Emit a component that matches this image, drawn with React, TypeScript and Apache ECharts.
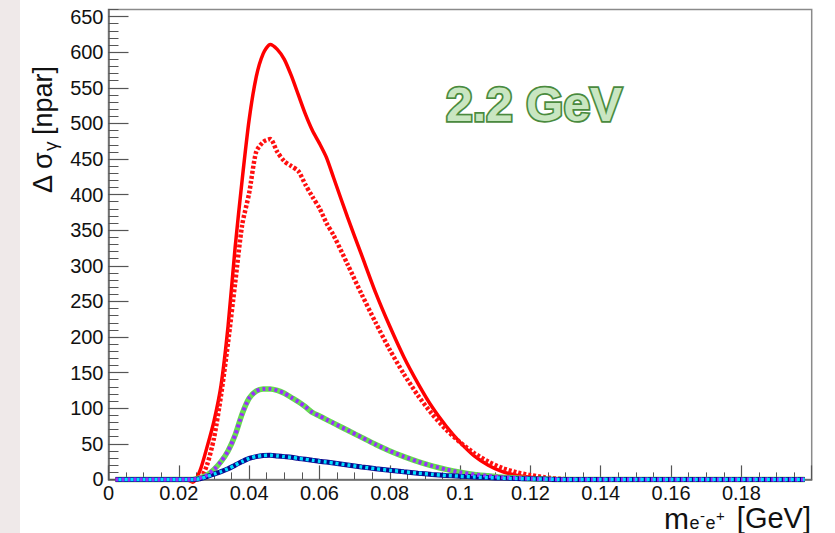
import React, { useEffect, useRef } from "react";
import * as echarts from "echarts";

// bin positions (GeV)
const xValues = [
  0.002, 0.006, 0.010, 0.014, 0.018, 0.022, 0.024, 0.026, 0.028, 0.030,
  0.032, 0.034, 0.036, 0.038, 0.040, 0.042, 0.044, 0.046, 0.048, 0.050,
  0.052, 0.054, 0.056, 0.058, 0.060, 0.062, 0.064, 0.068, 0.072, 0.076,
  0.080, 0.084, 0.088, 0.092, 0.096, 0.100, 0.104, 0.108, 0.112, 0.116,
  0.120, 0.124, 0.128, 0.132, 0.140, 0.150, 0.160, 0.170, 0.180, 0.190,
  0.198,
];

const redSolid = [
  0, 0, 0, 0, 0, 0, -4, 12, 45, 82,
  132, 215, 325, 420, 505, 565, 598, 611, 604, 590,
  567, 540, 513, 490, 472, 452, 424, 368, 315, 262,
  215, 172, 135, 102, 75, 52, 33, 20, 11, 6,
  3, 1, 0, 0, 0, 0, 0, 0, 0, 0,
  0,
];

const redDotted = [
  0, 0, 0, 0, 0, 0, 0, 1, 20, 58,
  118, 192, 275, 357, 402, 460, 474, 478, 460, 447,
  440, 433, 414, 397, 381, 360, 343, 302, 260, 220,
  182, 148, 118, 92, 70, 52, 37, 25, 16, 10,
  6, 3, 1, 0, 0, 0, 0, 0, 0, 0,
  0,
];

const greenSolid = [
  0, 0, 0, 0, 0, 0, 0, 2, 6, 14,
  25, 40, 62, 92, 114, 124, 127, 127, 125, 121,
  115, 109, 102, 94, 89, 84, 79, 69, 59, 49,
  40, 32, 25, 19, 14, 10, 7, 5, 3, 2,
  1, 0.5, 0, 0, 0, 0, 0, 0, 0, 0,
  0,
];

const purpleDotted = [
  0, 0, 0, 0, 0, 0, 0, 2, 6, 14,
  25, 40, 62, 92, 114, 124, 127, 127, 125, 121,
  115, 109, 102, 94, 89, 84, 79, 69, 59, 49,
  40, 32, 25, 19, 14, 10, 7, 5, 3, 2,
  1, 0.5, 0, 0, 0, 0, 0, 0, 0, 0,
  0,
];

const blueSolid = [
  0, 0, 0, 0, 0, 0, 0, 1, 4, 7.5,
  11, 15, 20, 25, 29.5, 32, 33.5, 34, 33, 32,
  31, 29.5, 28.2, 26.8, 25.5, 24.3, 23, 20.3, 17.5, 15,
  12.8, 10.7, 8.7, 7, 5.6, 4.5, 3.5, 2.5, 1.8, 1.2,
  0.8, 0.4, 0, 0, 0, 0, 0, 0, 0, 0,
  0,
];

const cyanDotted = [
  0, 0, 0, 0, 0, 0, 0, 1, 4, 7.5,
  11, 15, 20, 25, 29.5, 32, 33.5, 34, 33, 32,
  31, 29.5, 28.2, 26.8, 25.5, 24.3, 23, 20.3, 17.5, 15,
  12.8, 10.7, 8.7, 7, 5.6, 4.5, 3.5, 2.5, 1.8, 1.2,
  0.8, 0.4, 0, 0, 0, 0, 0, 0, 0, 0,
  0,
];

const FONT = "'Liberation Sans', Arial, Helvetica, sans-serif";

export default function App() {
  const ref = useRef<HTMLDivElement>(null);

  useEffect(() => {
    document.body.style.margin = "0";
    const chart = echarts.init(ref.current!, null, { renderer: "svg" });
    const pairs = (ys: number[]) => xValues.map((x, i) => [x, ys[i]]);

    const line = (
      name: string,
      ys: number[],
      color: string,
      width: number,
      dash?: number[],
      dashOffset?: number
    ) => ({
      name,
      type: "line",
      data: pairs(ys),
      showSymbol: false,
      symbol: "none",
      smooth: 0.25,
      clip: false,
      lineStyle: {
        color,
        width,
        type: dash ? dash : "solid",
        dashOffset: dashOffset || 0,
        cap: "butt",
      },
      xAxisIndex: 0,
      yAxisIndex: 0,
      silent: true,
    });

    const txt = (
      text: string,
      x: number,
      y: number,
      size: number,
      align: string,
      rotation = 0
    ) => ({
      type: "text",
      x,
      y,
      rotation,
      silent: true,
      style: {
        text,
        font: `${size}px ${FONT}`,
        fill: "#111",
        textAlign: align,
        align,
        textVerticalAlign: "middle",
        verticalAlign: "middle",
      },
    });

    const R = Math.PI / 2;

    chart.setOption({
      animation: false,
      backgroundColor: "#ffffff",
      grid: {
        left: 108.5,
        right: 23.3,
        top: 9.5,
        bottom: 53.6,
        show: true,
        borderColor: "#8a8a8a",
        borderWidth: 1.5,
        backgroundColor: "transparent",
      },
      xAxis: {
        type: "value",
        min: 0,
        max: 0.2,
        interval: 0.02,
        axisLine: { show: true, onZero: false, lineStyle: { color: "#666", width: 1.5 } },
        axisTick: { show: true, inside: true, length: 14, lineStyle: { color: "#555", width: 1.2 } },
        minorTick: { show: true, splitNumber: 4, length: 7, lineStyle: { color: "#555", width: 1 } },
        splitLine: { show: false },
        minorSplitLine: { show: false },
        axisLabel: {
          fontSize: 20,
          lineHeight: 20,
          color: "#111",
          fontFamily: FONT,
          margin: 4,
          showMaxLabel: false,
          formatter: (v: number) => String(Number(v.toFixed(2))),
        },
      },
      yAxis: [
        {
          type: "value",
          min: 0,
          max: 660,
          interval: 50,
          position: "left",
          axisLine: { show: true, onZero: false, lineStyle: { color: "#666", width: 1.5 } },
          axisTick: { show: true, inside: true, length: 20, lineStyle: { color: "#555", width: 1.2 } },
          splitLine: { show: false },
          axisLabel: {
            fontSize: 20,
            color: "#111",
            fontFamily: FONT,
            margin: 5,
            showMaxLabel: false,
          },
        },
        {
          type: "value",
          min: 0,
          max: 660,
          interval: 10,
          position: "left",
          offset: 0,
          axisLine: { show: false },
          axisTick: { show: true, inside: true, length: 10, lineStyle: { color: "#555", width: 1 } },
          splitLine: { show: false },
          axisLabel: { show: false },
        },
      ],
      series: [
        line("red solid", redSolid, "#ff0000", 3.5),
        line("red dotted", redDotted, "#ff1010", 4.5, [3, 2]),
        line("green", greenSolid, "#66dd4e", 5.5),
        line("blue", blueSolid, "#08088f", 5),
        line("purple dotted", purpleDotted, "#9a2cff", 4, [3, 3]),
        line("cyan dotted", cyanDotted, "#00e0ff", 3.5, [3, 3], 3),
      ],
      graphic: [
        {
          type: "rect",
          silent: true,
          z: -10,
          shape: { x: 0, y: 0, width: 20, height: 533 },
          style: { fill: "#efe9e9" },
        },
        {
          type: "text",
          x: 446,
          y: 104,
          silent: true,
          style: {
            text: "2.2 GeV",
            font: `bold 48px ${FONT}`,
            fill: "#c9e6c1",
            stroke: "#4a8a3e",
            lineWidth: 3.5,
            textAlign: "left",
            align: "left",
            textVerticalAlign: "middle",
            verticalAlign: "middle",
          },
        },
        // y-axis title: Δ σ_γ [npar]
        txt("Δ σ", 43, 193, 27, "left", R),
        txt("γ", 50, 151, 19, "left", R),
        txt("[npar]", 43, 135, 27, "left", R),
        // x-axis title: m_{e⁻e⁺} [GeV]
        txt("m", 664, 518, 30, "left"),
        txt("e", 689.5, 523, 18, "left"),
        txt("-", 700, 515, 15, "left"),
        txt("e", 705.5, 523, 18, "left"),
        txt("+", 716, 515, 15, "left"),
        txt("[GeV]", 811, 518, 29, "right"),
      ],
    });

    return () => chart.dispose();
  }, []);

  return (
    <div
      ref={ref}
      style={{ position: "absolute", left: 0, top: 0, width: 835, height: 533 }}
    />
  );
}
